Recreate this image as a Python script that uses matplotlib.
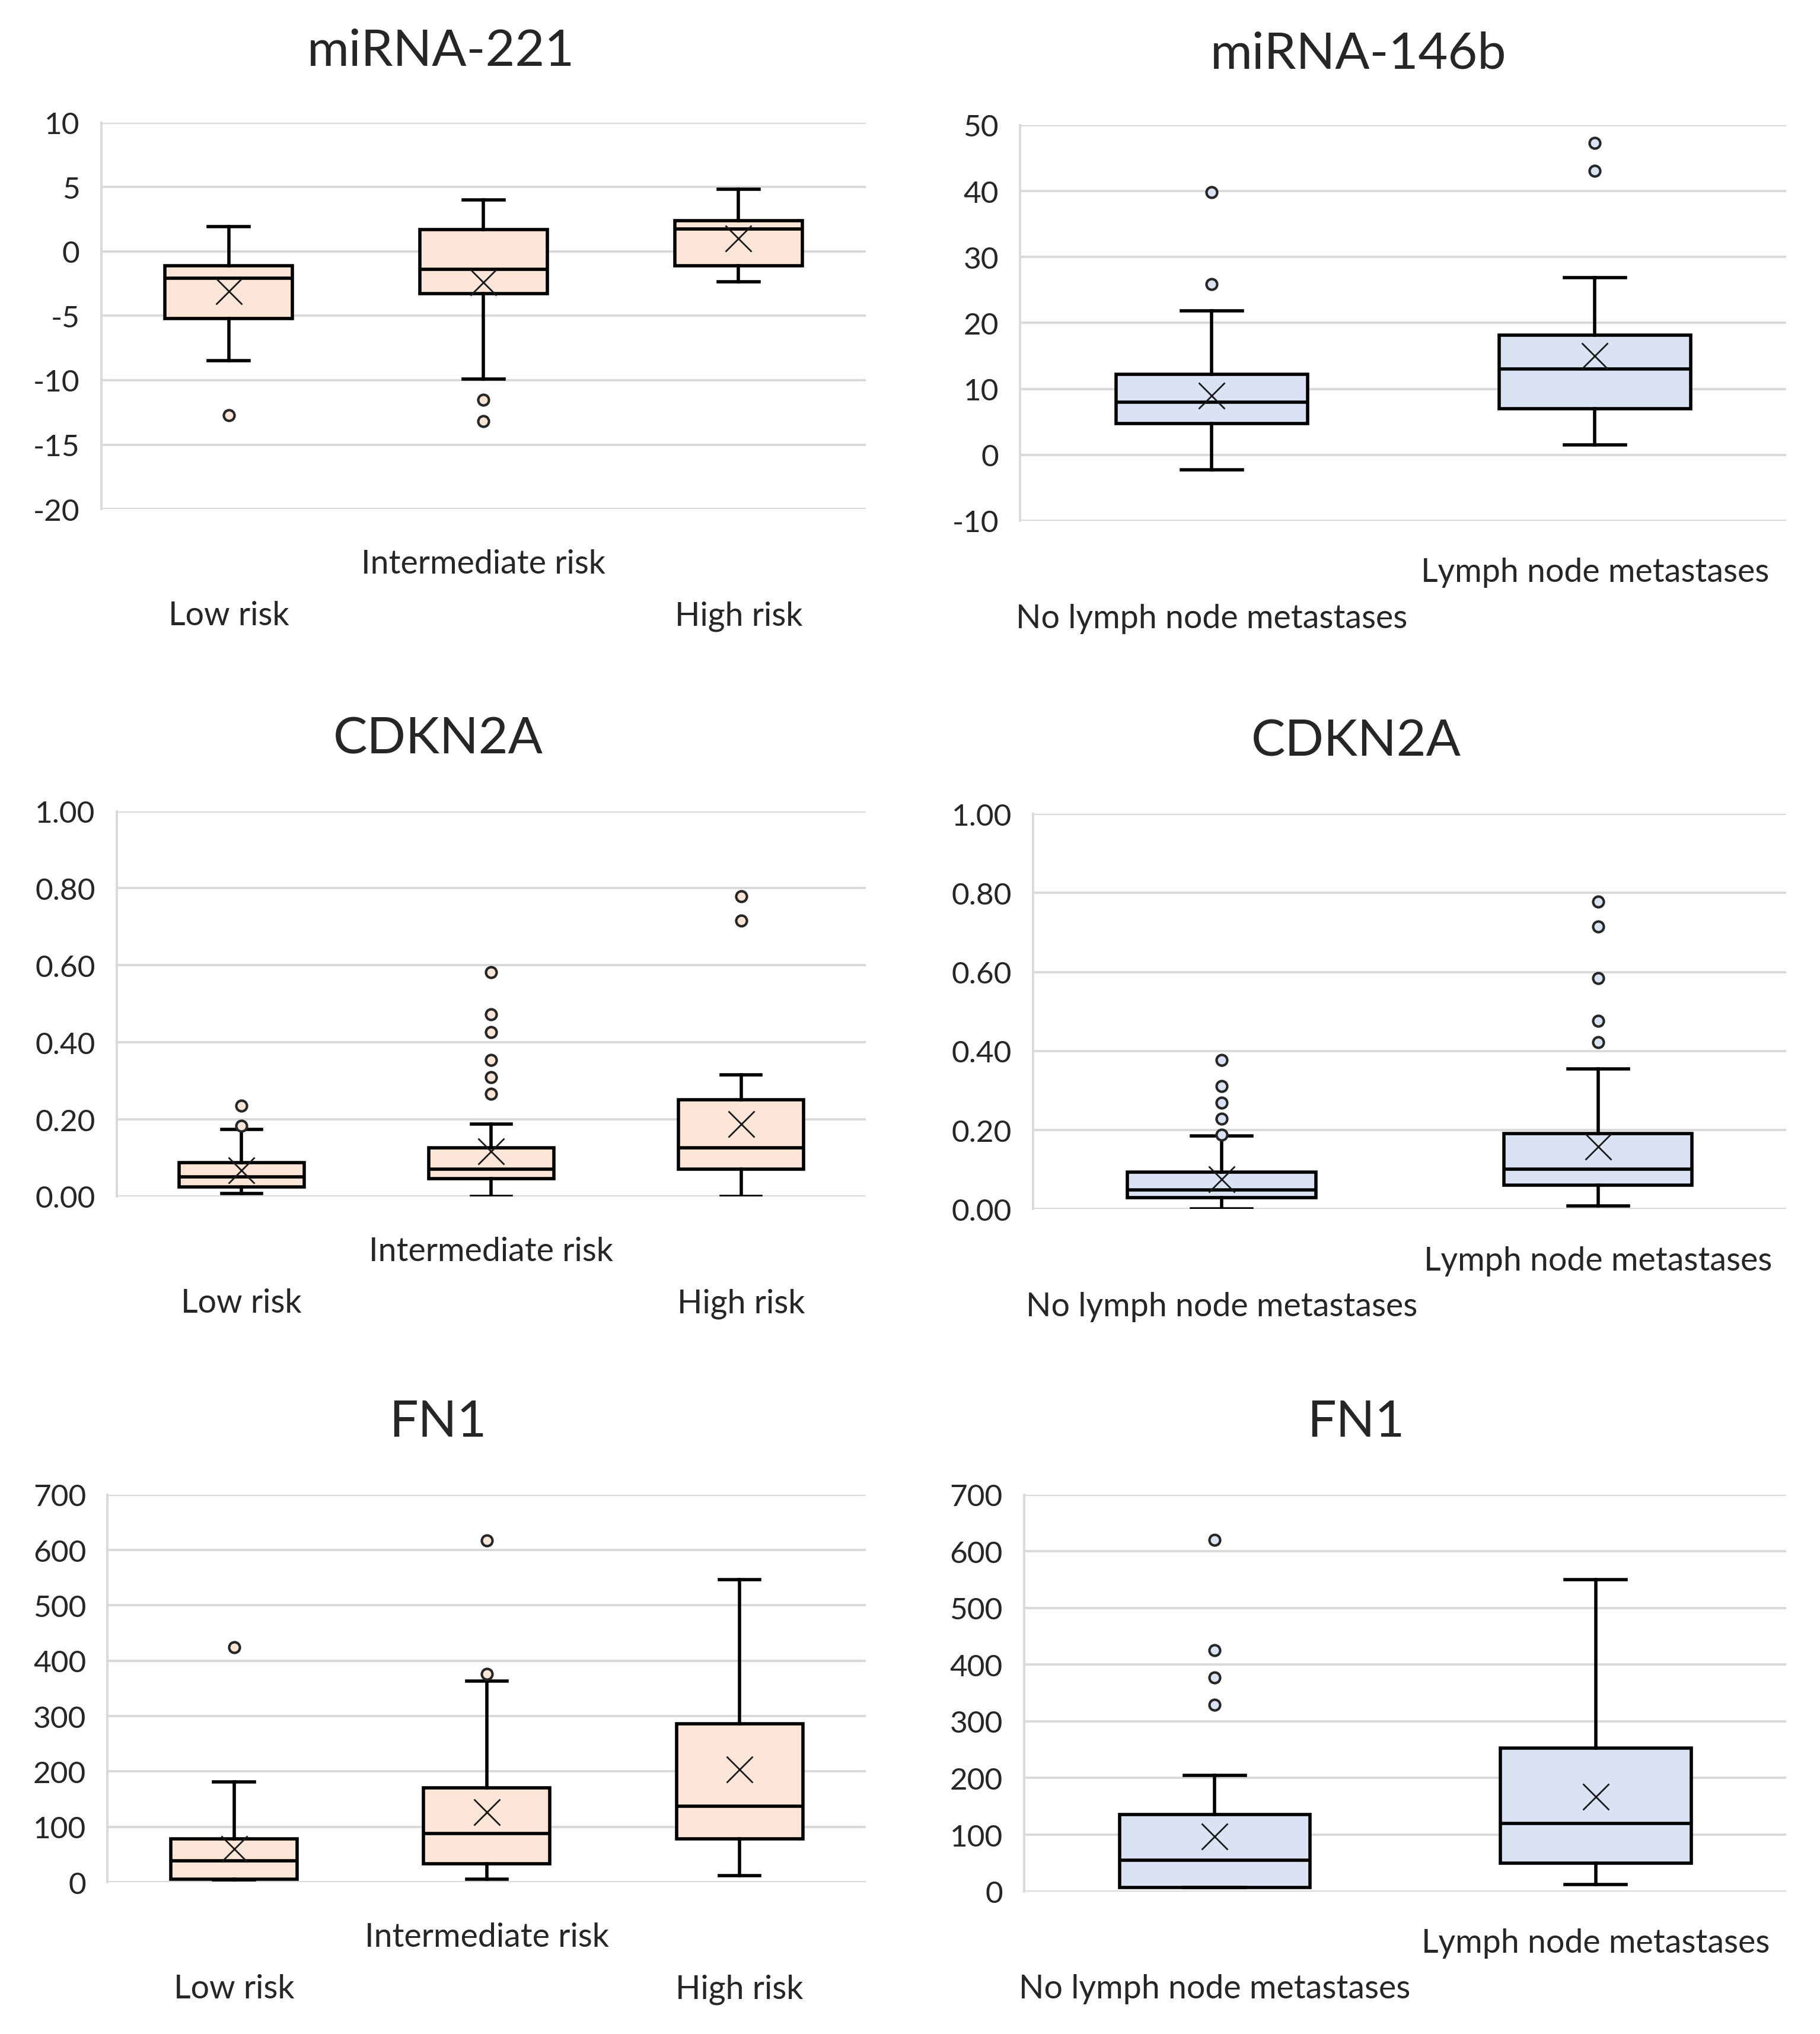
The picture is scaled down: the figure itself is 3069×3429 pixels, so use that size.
import numpy as np
import matplotlib
matplotlib.use("Agg")
from matplotlib import pyplot as plt
from matplotlib.ticker import FuncFormatter

plt.rcParams['font.family'] = ['Lato', 'DejaVu Sans']

# group names
risk_groups = ["Low risk", "Intermediate risk", "High risk"]
ln_groups = ["No lymph node metastases", "Lymph node metastases"]

# miRNA-221 by risk (whislo, q1, med, q3, whishi, mean, fliers)
mir221_lo = [-8.5, -9.9, -2.35]
mir221_q1 = [-5.2, -3.3, -1.1]
mir221_med = [-2.1, -1.4, 1.75]
mir221_q3 = [-1.1, 1.7, 2.4]
mir221_hi = [1.9, 4.0, 4.8]
mir221_mean = [-3.1, -2.4, 1.0]
mir221_fliers = [[-12.7], [-11.5, -13.2], []]

# miRNA-146b by lymph node status
mir146_lo = [-2.3, 1.5]
mir146_q1 = [4.7, 7.0]
mir146_med = [8.0, 13.0]
mir146_q3 = [12.2, 18.1]
mir146_hi = [21.8, 26.9]
mir146_mean = [9.0, 15.0]
mir146_fliers = [[39.8, 25.9], [47.3, 43.1]]

# CDKN2A by risk
cdk_r_lo = [0.008, 0.0, 0.0]
cdk_r_q1 = [0.024, 0.046, 0.071]
cdk_r_med = [0.050, 0.071, 0.126]
cdk_r_q3 = [0.087, 0.126, 0.251]
cdk_r_hi = [0.174, 0.188, 0.315]
cdk_r_mean = [0.067, 0.117, 0.187]
cdk_r_fliers = [[0.236, 0.183], [0.582, 0.473, 0.426, 0.354, 0.309, 0.266], [0.779, 0.716]]

# CDKN2A by lymph node status
cdk_l_lo = [0.0, 0.008]
cdk_l_q1 = [0.029, 0.061]
cdk_l_med = [0.049, 0.101]
cdk_l_q3 = [0.093, 0.192]
cdk_l_hi = [0.185, 0.355]
cdk_l_mean = [0.076, 0.159]
cdk_l_fliers = [[0.378, 0.312, 0.270, 0.229, 0.188], [0.778, 0.715, 0.585, 0.477, 0.423]]

# FN1 by risk
fn1_r_lo = [4, 5, 12]
fn1_r_q1 = [5, 33, 78]
fn1_r_med = [39, 88, 137]
fn1_r_q3 = [78, 170, 286]
fn1_r_hi = [181, 363, 546]
fn1_r_mean = [60, 127, 204]
fn1_r_fliers = [[424], [617, 376], []]

# FN1 by lymph node status
fn1_l_lo = [7, 12]
fn1_l_q1 = [7, 50]
fn1_l_med = [55, 120]
fn1_l_q3 = [136, 253]
fn1_l_hi = [205, 550]
fn1_l_mean = [97, 167]
fn1_l_fliers = [[620, 426, 377, 329], []]

ORANGE = '#FBE5D6'
BLUE = '#DAE3F3'
GRID = '#D9D9D9'


def make_stats(lo, q1, med, q3, hi, mean, fliers):
    return [dict(whislo=a, q1=b, med=c, q3=d, whishi=e, mean=f, fliers=g)
            for a, b, c, d, e, f, g in zip(lo, q1, med, q3, hi, mean, fliers)]


def draw_panel(rect, title, title_xy, stats, groups, color, ylim, ystep, fmt, pads):
    ax = fig.add_axes(rect)
    n = len(stats)
    lw = 4.0
    ax.bxp(stats, positions=range(n), widths=0.5, capwidths=0.16,
           showmeans=True, patch_artist=True,
           boxprops=dict(facecolor=color, edgecolor='black', linewidth=lw),
           medianprops=dict(color='black', linewidth=lw),
           whiskerprops=dict(color='black', linewidth=lw),
           capprops=dict(color='black', linewidth=lw),
           meanprops=dict(marker='x', markersize=32, markeredgecolor='#1a1a1a',
                          markeredgewidth=2.0),
           flierprops=dict(marker='o', markersize=13, markerfacecolor=color,
                           markeredgecolor='#262626', markeredgewidth=3.0))
    ax.set_xlim(-0.5, n - 0.5)
    ax.set_ylim(*ylim)
    ax.set_yticks(np.arange(ylim[0], ylim[1] + ystep / 2, ystep))
    ax.yaxis.set_major_formatter(FuncFormatter(fmt))
    ax.grid(axis='y', color=GRID, linewidth=2.8)
    ax.set_axisbelow(True)
    for s in ['top', 'right', 'bottom']:
        ax.spines[s].set_visible(False)
    ax.spines['left'].set_color(GRID)
    ax.spines['left'].set_linewidth(2.8)
    ax.tick_params(axis='y', length=0, pad=26, labelsize=37, labelcolor='#262626')
    ax.set_xticks(range(n))
    ax.set_xticklabels(groups)
    ax.tick_params(axis='x', length=0, labelsize=40, labelcolor='#262626')
    for t, p in zip(ax.xaxis.get_major_ticks(), pads):
        t.set_pad(p)
    fig.text(title_xy[0], title_xy[1], title, ha='center', va='center',
             fontsize=62, color='#262626')
    return ax


fig = plt.figure(figsize=(30.69, 34.30), dpi=100)

int_fmt = lambda v, p: '%d' % round(v)
dec_fmt = lambda v, p: '%.2f' % v

risk_pads = [111, 48, 111]
ln_pads = [100, 44]

draw_panel([0.0556, 0.7495, 0.4202, 0.1900], 'miRNA-221', (0.2422, 0.9745),
           make_stats(mir221_lo, mir221_q1, mir221_med, mir221_q3, mir221_hi,
                      mir221_mean, mir221_fliers),
           risk_groups, ORANGE, (-20, 10), 5, int_fmt, risk_pads)
draw_panel([0.5605, 0.7438, 0.4210, 0.1944], 'miRNA-146b', (0.7464, 0.9732),
           make_stats(mir146_lo, mir146_q1, mir146_med, mir146_q3, mir146_hi,
                      mir146_mean, mir146_fliers),
           ln_groups, BLUE, (-10, 50), 10, int_fmt, ln_pads)
draw_panel([0.0641, 0.4117, 0.4117, 0.1893], 'CDKN2A', (0.2407, 0.6367),
           make_stats(cdk_r_lo, cdk_r_q1, cdk_r_med, cdk_r_q3, cdk_r_hi,
                      cdk_r_mean, cdk_r_fliers),
           risk_groups, ORANGE, (0, 1.0), 0.2, dec_fmt, risk_pads)
draw_panel([0.5677, 0.4054, 0.4138, 0.1943], 'CDKN2A', (0.7450, 0.6354),
           make_stats(cdk_l_lo, cdk_l_q1, cdk_l_med, cdk_l_q3, cdk_l_hi,
                      cdk_l_mean, cdk_l_fliers),
           ln_groups, BLUE, (0, 1.0), 0.2, dec_fmt, ln_pads)
draw_panel([0.0591, 0.0746, 0.4167, 0.1905], 'FN1', (0.2407, 0.3008),
           make_stats(fn1_r_lo, fn1_r_q1, fn1_r_med, fn1_r_q3, fn1_r_hi,
                      fn1_r_mean, fn1_r_fliers),
           risk_groups, ORANGE, (0, 700), 100, int_fmt, risk_pads)
draw_panel([0.5627, 0.0701, 0.4188, 0.1950], 'FN1', (0.7450, 0.3008),
           make_stats(fn1_l_lo, fn1_l_q1, fn1_l_med, fn1_l_q3, fn1_l_hi,
                      fn1_l_mean, fn1_l_fliers),
           ln_groups, BLUE, (0, 700), 100, int_fmt, ln_pads)

fig.savefig('out.png', dpi=100, facecolor='white')
